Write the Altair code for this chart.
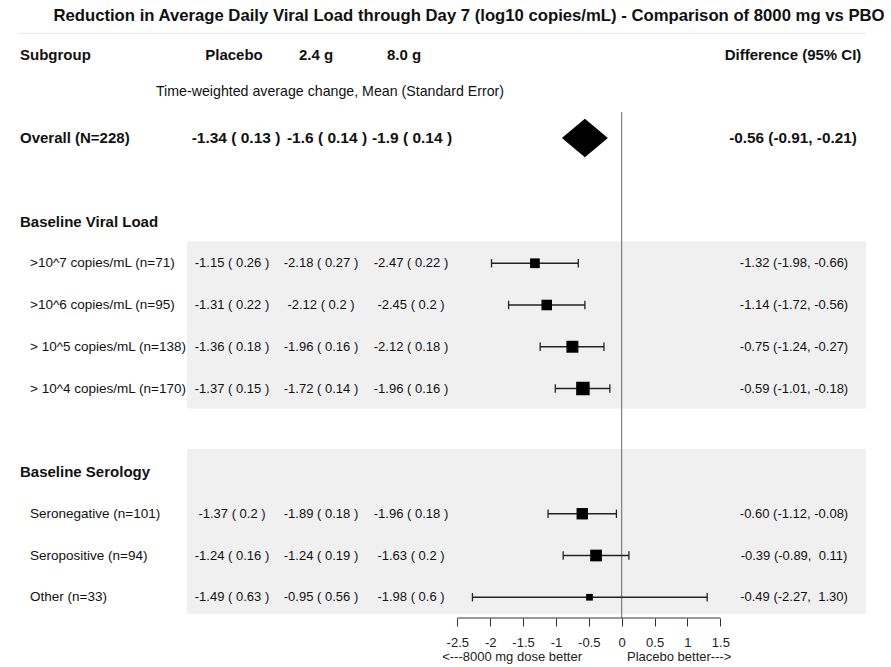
import altair as alt
import pandas as pd

# ---------------- data ----------------
title_text = "Reduction in Average Daily Viral Load through Day 7 (log10 copies/mL) - Comparison of 8000 mg vs PBO"
col_headers = ["Subgroup", "Placebo", "2.4 g", "8.0 g", "Difference (95% CI)"]
subtitle_text = "Time-weighted average change, Mean (Standard Error)"
group_names = ["Baseline Viral Load", "Baseline Serology"]

subgroups = ["Overall (N=228)",
             ">10^7 copies/mL (n=71)", ">10^6 copies/mL (n=95)",
             "> 10^5 copies/mL (n=138)", "> 10^4 copies/mL (n=170)",
             "Seronegative (n=101)", "Seropositive (n=94)", "Other (n=33)"]
subgroup_group = [None, 0, 0, 0, 0, 1, 1, 1]
placebo = ["-1.34 ( 0.13 )", "-1.15 ( 0.26 )", "-1.31 ( 0.22 )", "-1.36 ( 0.18 )",
           "-1.37 ( 0.15 )", "-1.37 ( 0.2 )", "-1.24 ( 0.16 )", "-1.49 ( 0.63 )"]
dose_24 = ["-1.6 ( 0.14 )", "-2.18 ( 0.27 )", "-2.12 ( 0.2 )", "-1.96 ( 0.16 )",
           "-1.72 ( 0.14 )", "-1.89 ( 0.18 )", "-1.24 ( 0.19 )", "-0.95 ( 0.56 )"]
dose_80 = ["-1.9 ( 0.14 )", "-2.47 ( 0.22 )", "-2.45 ( 0.2 )", "-2.12 ( 0.18 )",
           "-1.96 ( 0.16 )", "-1.96 ( 0.18 )", "-1.63 ( 0.2 )", "-1.98 ( 0.6 )"]
diff_est = [-0.56, -1.32, -1.14, -0.75, -0.59, -0.60, -0.39, -0.49]
diff_lo = [-0.91, -1.98, -1.72, -1.24, -1.01, -1.12, -0.89, -2.27]
diff_hi = [-0.21, -0.66, -0.56, -0.27, -0.18, -0.08, 0.11, 1.30]
tick_values = [-2.5, -2, -1.5, -1, -0.5, 0, 0.5, 1, 1.5]
left_note = "<---8000 mg dose better"
right_note = "Placebo better--->"

# ---------------- layout ----------------
FONT = "Liberation Sans"
W, H, PB = 891, 618, 49
# vertical row order (index = row position)
layout = [("sub", 0), ("blank", None), ("grp", 0), ("sub", 1), ("sub", 2), ("sub", 3),
          ("sub", 4), ("blank", None), ("grp", 1), ("sub", 5), ("sub", 6), ("sub", 7)]

def fmt_num(v):
    s = f"{v:.2f}"
    return s if v < 0 else "\u00a0" + s

recs = []
for pos, (kind, idx) in enumerate(layout):
    if kind == "sub":
        recs.append(dict(
            y=pos, label=subgroups[idx], overall=(idx == 0),
            pla=placebo[idx], d24=dose_24[idx], d80=dose_80[idx],
            est=diff_est[idx], lo=diff_lo[idx], hi=diff_hi[idx],
            dtxt=f"{diff_est[idx]:.2f} ({diff_lo[idx]:.2f}, {fmt_num(diff_hi[idx])})",
            w=(3.92 / (diff_hi[idx] - diff_lo[idx])) ** 2))
df = pd.DataFrame(recs)
df["cap_top"] = df["y"] - 0.1
df["cap_bot"] = df["y"] + 0.1
sub_df = df[~df["overall"]]
ov_df = df[df["overall"]]

grp_df = pd.DataFrame({"label": group_names,
                       "y": [pos for pos, (k, i) in enumerate(layout) if k == "grp"]})

# shaded bands around each group's member rows
band_df = pd.DataFrame({"y": [2.48, 7.45], "y2": [6.48, 11.4]})

# diamond for overall
h = 0.46
o = ov_df.iloc[0]
dia_df = pd.DataFrame({"x": [o.lo, o.est, o.hi],
                       "yt": [o.y, o.y - h, o.y], "yb": [o.y, o.y + h, o.y]})

xscale = alt.Scale(domain=[-621.7 / 65.75, (W - 621.7) / 65.75], nice=False, zero=False)
yscale = alt.Scale(domain=[-138 / 41.75, (H - 138) / 41.75], reverse=True, nice=False, zero=False)
xaxis = alt.Axis(values=tick_values, labelExpr="datum.value + ''", domain=False, grid=False,
                 tickSize=8, tickColor="#333", tickWidth=1, labelFont=FONT, labelFontSize=13,
                 labelColor="#222", labelPadding=10, labelFlush=False, labelOverlap=False,
                 title=None)

def X(f):
    return alt.X(f, type="quantitative", scale=xscale, axis=xaxis)

def Y(f):
    return alt.Y(f, type="quantitative", scale=yscale, axis=None)

bands = alt.Chart(band_df).mark_rect(color="#f0f0f0").encode(
    x=alt.value(187), x2=alt.value(866), y=Y("y"), y2="y2")

top_line = alt.Chart(pd.DataFrame({"y": [-2.51]})).mark_rule(color="#e6e6e6", strokeWidth=1).encode(
    x=alt.value(18), x2=alt.value(866), y=Y("y"))

zero_line = alt.Chart(pd.DataFrame({"x": [0], "y": [-0.62]})).mark_rule(color="#666", strokeWidth=1).encode(
    x=X("x"), y=Y("y"), y2=alt.value(H))

axis_line = alt.Chart(pd.DataFrame({"x": [tick_values[0]], "x2": [tick_values[-1]]})).mark_rule(
    color="#333", strokeWidth=1).encode(x=X("x"), x2="x2", y=alt.value(H))

ci = alt.Chart(sub_df).mark_rule(color="#222", strokeWidth=1.3).encode(
    x=X("lo"), x2="hi", y=Y("y"))
cap_lo = alt.Chart(sub_df).mark_rule(color="#222", strokeWidth=1.3).encode(
    x=X("lo"), y=Y("cap_top"), y2="cap_bot")
cap_hi = alt.Chart(sub_df).mark_rule(color="#222", strokeWidth=1.3).encode(
    x=X("hi"), y=Y("cap_top"), y2="cap_bot")
boxes = alt.Chart(sub_df).mark_square(color="black", opacity=1).encode(
    x=X("est"), y=Y("y"),
    size=alt.Size("w:Q", legend=None,
                  scale=alt.Scale(domain=[sub_df.w.min(), sub_df.w.max()], range=[45, 182])))
diamond = alt.Chart(dia_df).mark_area(orient="vertical", color="black", opacity=1).encode(
    x=X("x"), y=Y("yt"), y2="yb")

def txt(data, field, x, align="left", bold=False, size=13.5, color="#111"):
    return alt.Chart(data).mark_text(align=align, baseline="middle", font=FONT, fontSize=size,
                                     fontWeight="bold" if bold else "normal", color=color).encode(
        x=alt.value(x), y=Y("y"), text=field + ":N")

t_title = alt.Chart(pd.DataFrame({"t": [title_text], "y": [-2.92]})).mark_text(
    align="center", baseline="middle", font=FONT, fontSize=16.7, fontWeight="bold", color="#111").encode(
    x=alt.value(469), y=Y("y"), text="t:N")

hdr_df = pd.DataFrame({"t": col_headers, "y": [-2] * 5,
                       "xp": [20, 234, 316, 404, 793], "al": ["left", "center", "center", "center", "center"]})
hdr_layers = [alt.Chart(hdr_df.iloc[[i]]).mark_text(
    align=hdr_df.al[i], baseline="middle", font=FONT, fontSize=15, fontWeight="bold", color="#111").encode(
    x=alt.value(int(hdr_df.xp[i])), y=Y("y"), text="t:N") for i in range(5)]

t_sub = alt.Chart(pd.DataFrame({"t": [subtitle_text], "y": [-1.1]})).mark_text(
    align="center", baseline="middle", font=FONT, fontSize=14.2, color="#111").encode(
    x=alt.value(330), y=Y("y"), text="t:N")

layers = [bands, top_line, zero_line, axis_line, ci, cap_lo, cap_hi, boxes, diamond, t_title, t_sub]
layers += hdr_layers
layers += [
    txt(ov_df, "label", 20, bold=True, size=15),
    txt(grp_df, "label", 20, bold=True, size=15),
    txt(sub_df, "label", 30),
    txt(ov_df, "pla", 236, "center", True, 15.5), txt(ov_df, "d24", 327, "center", True, 15.5),
    txt(ov_df, "d80", 412, "center", True, 15.5), txt(ov_df, "dtxt", 793, "center", True, 15.3),
    txt(sub_df, "pla", 232, "center", size=13), txt(sub_df, "d24", 321, "center", size=13),
    txt(sub_df, "d80", 411, "center", size=13), txt(sub_df, "dtxt", 794, "center", size=13),
]

layers += [
    alt.Chart(pd.DataFrame({"t": [left_note]})).mark_text(
        align="right", baseline="middle", font=FONT, fontSize=13, color="#222").encode(
        x=alt.value(582), y=alt.value(657), text="t:N"),
    alt.Chart(pd.DataFrame({"t": [right_note]})).mark_text(
        align="left", baseline="middle", font=FONT, fontSize=13, color="#222").encode(
        x=alt.value(627), y=alt.value(657), text="t:N"),
]

chart = alt.layer(*layers).properties(
    width=W, height=H,
    autosize=alt.AutoSizeParams(type="none"),
    padding={"left": 0, "top": 0, "right": 0, "bottom": PB},
    background="white",
).configure_view(stroke=None)

chart.save("out.html", embed_options={"renderer": "svg", "actions": False})
